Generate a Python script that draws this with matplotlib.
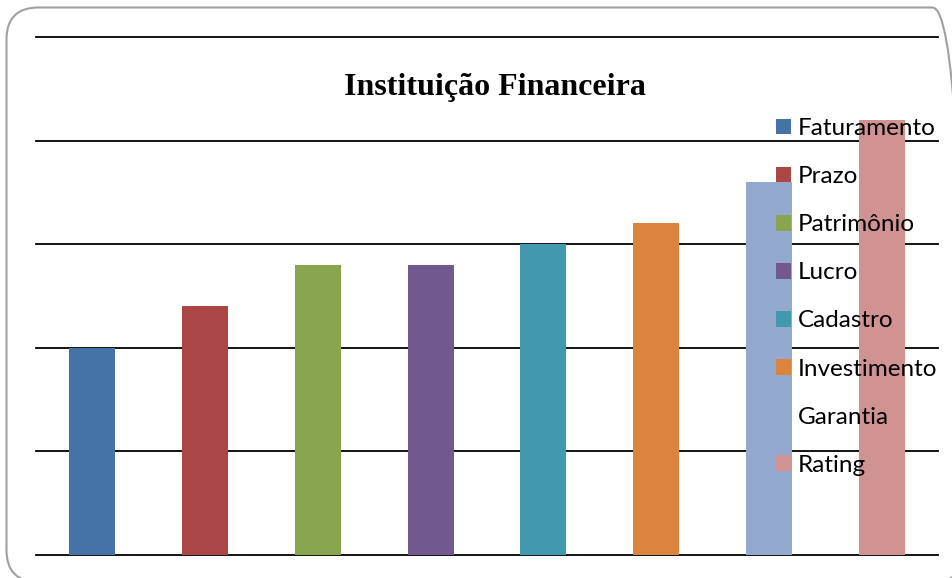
import matplotlib.pyplot as plt
from matplotlib.patches import FancyBboxPatch

# categories and values
categories = ["Faturamento", "Prazo", "Patrimônio", "Lucro",
              "Cadastro", "Investimento", "Garantia", "Rating"]
values = [2.0, 2.4, 2.8, 2.8, 3.0, 3.2, 3.6, 4.2]
colors = ["#4572A7", "#AA4643", "#89A54E", "#71588F",
          "#4198AF", "#DB843D", "#93A9CF", "#D19392"]

fig = plt.figure(figsize=(9.53, 5.78), dpi=100)

# rounded frame around the chart
frame = FancyBboxPatch((0.065, -0.04), 9.58, 5.745,
                       boxstyle="round,pad=0,rounding_size=0.32",
                       transform=fig.dpi_scale_trans, fill=False,
                       edgecolor="#a0a0a0", linewidth=1.5)
fig.patches.append(frame)

ax = fig.add_axes([36 / 953, 1 - 555 / 578, 902 / 953, 518 / 578])
bars = ax.bar(range(len(categories)), values, width=0.41, color=colors, zorder=3)

ax.set_xlim(-0.5, len(categories) - 0.5)
ax.set_ylim(0, 5)
ax.set_yticks(range(6))
ax.yaxis.grid(True, color="black", linewidth=1.3, zorder=0)
for gl in ax.get_ygridlines():
    gl.set_clip_on(False)
ax.set_axisbelow(True)
for s in ax.spines.values():
    s.set_visible(False)
ax.tick_params(left=False, bottom=False, labelleft=False, labelbottom=False)
ax.patch.set_alpha(0)

fig.text(495 / 953, 1 - 87 / 578, "Instituição Financeira",
         family="Liberation Serif", fontweight="bold", fontsize=23,
         ha="center", va="center")

leg = ax.legend(bars, categories, loc="upper left",
                bbox_to_anchor=(776 / 953, 1 - 118 / 578),
                bbox_transform=fig.transFigure, frameon=False,
                prop={"family": "Lato", "size": 17.5},
                handlelength=0.62, handleheight=0.62, handletextpad=0.29,
                labelspacing=1.115, borderpad=0, borderaxespad=0)
leg.set_zorder(10)

fig.savefig("out.png", dpi=100)
